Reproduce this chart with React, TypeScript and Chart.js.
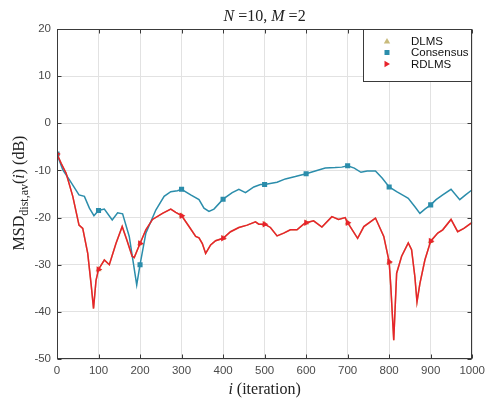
import React, { useEffect, useRef } from "react";
import { Chart, registerables } from "chart.js";

Chart.register(...registerables);

// ---------- data ----------
const rdlmsIter = [0, 10, 22, 38, 53, 62, 74, 82, 88, 94, 100, 114, 126, 142, 157, 168, 181, 186, 192, 200, 214, 230, 254, 274, 286, 300, 318, 334, 342, 350, 358, 370, 382, 400, 418, 438, 458, 478, 486, 500, 514, 530, 546, 562, 578, 594, 600, 618, 638, 662, 678, 694, 700, 724, 739, 767, 787, 800, 804, 811, 818, 830, 846, 854, 862, 867, 874, 886, 900, 917, 929, 949, 965, 980, 1000];
const rdlmsMsd = [-6.5, -8.5, -10.6, -15.5, -21.6, -22.3, -27.6, -34, -39.3, -33.3, -31, -29, -30, -25.5, -21.9, -24.7, -28.2, -28.5, -27.2, -25.5, -22.6, -20.4, -19.1, -18.2, -18.9, -19.6, -21.9, -24, -24.3, -25.5, -27.6, -25.8, -24.9, -24.4, -23, -22.1, -21.6, -20.9, -21.4, -21.4, -22.1, -23.9, -23.3, -22.6, -22.6, -21.4, -21.1, -20.7, -22, -19.8, -20.4, -20, -21.1, -24.4, -21.9, -20.1, -24, -29.4, -34.7, -46, -31.8, -28.2, -25.4, -26.8, -32.6, -37.9, -34, -29, -25, -23.3, -22.6, -20.4, -23, -22.3, -21];

const consIter = [0, 14, 30, 53, 66, 78, 89, 100, 114, 133, 146, 158, 174, 184, 192, 200, 214, 238, 258, 274, 290, 300, 322, 342, 354, 366, 378, 400, 422, 438, 454, 474, 490, 500, 530, 550, 574, 600, 626, 646, 670, 686, 700, 716, 732, 747, 767, 783, 800, 818, 838, 846, 862, 874, 886, 900, 913, 929, 949, 970, 984, 1000];
const consMsd = [-6.5, -9.9, -12, -15.2, -15.5, -18, -19.6, -18.5, -18.2, -20.5, -19, -19.2, -24, -29.7, -34.3, -30, -23.3, -18.4, -15.5, -14.5, -14.3, -14, -15.2, -16.2, -18, -18.7, -18.2, -16.1, -14.7, -14, -14.7, -13.5, -13, -13, -12.5, -11.8, -11.3, -10.7, -10, -9.5, -9.4, -9.3, -9, -9.5, -10.4, -10.1, -10.1, -11.6, -13.5, -14.5, -15.5, -15.9, -17.7, -19.1, -18.2, -17.3, -16.2, -15.2, -14, -16.2, -15.2, -14.1];

// DLMS curve lies underneath the RDLMS curve (not visible in the reference)
const dlmsIter = rdlmsIter;
const dlmsMsd = rdlmsMsd;

const seriesNames = ["DLMS", "Consensus", "RDLMS"];
const xTickValues = [0, 100, 200, 300, 400, 500, 600, 700, 800, 900, 1000];
const yTickValues = [20, 10, 0, -10, -20, -30, -40, -50];

const COL_DLMS = "#c9bb7c";
const COL_CONS = "#2b8dab";
const COL_RDLMS = "#e8232b";
const SERIF = "'Liberation Serif', 'DejaVu Serif', serif";
const SANS = "'Liberation Sans', Arial, sans-serif";

type Run = { t: string; font: string; dy?: number };

function drawRuns(ctx: CanvasRenderingContext2D, runs: Run[], cx: number, cy: number) {
  let total = 0;
  const widths = runs.map((r) => {
    ctx.font = r.font;
    const w = ctx.measureText(r.t).width;
    total += w;
    return w;
  });
  let x = cx - total / 2;
  ctx.textBaseline = "alphabetic";
  ctx.textAlign = "left";
  runs.forEach((r, i) => {
    ctx.font = r.font;
    ctx.fillText(r.t, x, cy + (r.dy || 0));
    x += widths[i];
  });
}

const decorPlugin = {
  id: "decor",
  afterDraw(chart: any) {
    const { ctx, chartArea: a, scales } = chart;
    const L = Math.round(a.left) + 0.5;
    const R = Math.round(a.right) - 0.5;
    const T = Math.round(a.top) + 0.5;
    const B = Math.round(a.bottom) - 0.5;
    ctx.save();
    // frame
    ctx.strokeStyle = "#3a3a3a";
    ctx.lineWidth = 1;
    ctx.strokeRect(L, T, R - L, B - T);
    // inward ticks
    ctx.beginPath();
    xTickValues.forEach((v) => {
      const px = Math.round(scales.x.getPixelForValue(v)) + 0.5;
      ctx.moveTo(px, B);
      ctx.lineTo(px, B - 4);
      ctx.moveTo(px, T);
      ctx.lineTo(px, T + 4);
    });
    yTickValues.forEach((v) => {
      const py = Math.round(scales.y.getPixelForValue(v)) + 0.5;
      ctx.moveTo(L, py);
      ctx.lineTo(L + 4, py);
      ctx.moveTo(R, py);
      ctx.lineTo(R - 4, py);
    });
    ctx.stroke();

    // title
    ctx.fillStyle = "#222";
    const f = `16px ${SERIF}`;
    const fi = `italic 16px ${SERIF}`;
    drawRuns(ctx, [
      { t: "N", font: fi },
      { t: " =10, ", font: f },
      { t: "M", font: fi },
      { t: " =2", font: f },
    ], (a.left + a.right) / 2, 21);

    // x label
    drawRuns(ctx, [
      { t: "i", font: fi },
      { t: " (iteration)", font: f },
    ], (a.left + a.right) / 2, 394);

    // y label (rotated)
    ctx.save();
    ctx.translate(24, 193);
    ctx.rotate(-Math.PI / 2);
    drawRuns(ctx, [
      { t: "MSD", font: f },
      { t: "dist,av", font: `12px ${SERIF}`, dy: 4 },
      { t: "(", font: f },
      { t: "i", font: fi },
      { t: ")", font: f },
      { t: " (dB)", font: f },
    ], 0, 0);
    ctx.restore();

    // legend
    const lx = 363.5, ly = T, lw = R - 363.5, lh = 52;
    ctx.fillStyle = "#ffffff";
    ctx.fillRect(lx, ly, lw, lh);
    ctx.strokeStyle = "#3a3a3a";
    ctx.strokeRect(lx, ly, lw, lh);
    const rows = [41, 52.5, 64];
    const colors = [COL_DLMS, COL_CONS, COL_RDLMS];
    ctx.font = `11.5px ${SANS}`;
    ctx.textBaseline = "middle";
    ctx.textAlign = "left";
    rows.forEach((y, i) => {
      const mx = 387;
      ctx.fillStyle = colors[i];
      ctx.beginPath();
      if (i === 0) {
        ctx.moveTo(mx, y - 3);
        ctx.lineTo(mx + 3.2, y + 2.5);
        ctx.lineTo(mx - 3.2, y + 2.5);
        ctx.closePath();
        ctx.fill();
      } else if (i === 1) {
        ctx.fillRect(mx - 2.5, y - 2.5, 5, 5);
      } else {
        ctx.moveTo(mx + 3, y);
        ctx.lineTo(mx - 2.5, y - 3.2);
        ctx.lineTo(mx - 2.5, y + 3.2);
        ctx.closePath();
        ctx.fill();
      }
      ctx.fillStyle = "#111";
      ctx.fillText(seriesNames[i], 411, y + 0.5);
    });
    ctx.restore();
  },
};

function toPts(xs: number[], ys: number[]) {
  return xs.map((x, i) => ({ x, y: ys[i] }));
}

const markerRadius = (r: number) => (c: any) => {
  const x = c.raw && c.raw.x;
  return x % 100 === 0 && x < 1000 ? r : 0;
};

export default function App() {
  const ref = useRef<HTMLCanvasElement | null>(null);
  useEffect(() => {
    if (!ref.current) return;
    const chart = new Chart(ref.current, {
      type: "line",
      data: {
        datasets: [
          {
            label: seriesNames[0],
            data: toPts(dlmsIter, dlmsMsd),
            borderColor: COL_DLMS,
            backgroundColor: COL_DLMS,
            borderWidth: 1.5,
            pointStyle: "triangle",
            pointRadius: markerRadius(3.5),
            pointBorderWidth: 0,
            order: 3,
            tension: 0,
          },
          {
            label: seriesNames[1],
            data: toPts(consIter, consMsd),
            borderColor: COL_CONS,
            backgroundColor: COL_CONS,
            borderWidth: 1.5,
            pointStyle: "rect",
            pointRadius: markerRadius(3.6),
            pointBorderWidth: 0,
            order: 2,
            tension: 0,
          },
          {
            label: seriesNames[2],
            data: toPts(rdlmsIter, rdlmsMsd),
            borderColor: COL_RDLMS,
            backgroundColor: COL_RDLMS,
            borderWidth: 1.5,
            pointStyle: "triangle",
            rotation: 90,
            pointRadius: markerRadius(3.8),
            pointBorderWidth: 0,
            order: 1,
            tension: 0,
          },
        ],
      },
      options: {
        responsive: false,
        animation: false,
        events: [],
        layout: { padding: { top: 29, right: 15, left: 0, bottom: 0 } },
        plugins: {
          legend: { display: false },
          title: { display: false },
          tooltip: { enabled: false },
        },
        scales: {
          x: {
            type: "linear",
            min: 0,
            max: 1000,
            afterBuildTicks: (s: any) => {
              s.ticks = xTickValues.map((v) => ({ value: v }));
            },
            afterFit: (s: any) => {
              s.height = 42;
            },
            ticks: {
              maxRotation: 0,
              autoSkip: false,
              padding: 5,
              color: "#4a4a4a",
              font: { family: SANS, size: 11.5 },
              callback: (v: any) => String(v),
            },
            grid: { color: "#e2e2e2", drawTicks: false },
            border: { display: false },
          },
          y: {
            type: "linear",
            min: -50,
            max: 20,
            afterBuildTicks: (s: any) => {
              s.ticks = yTickValues.map((v) => ({ value: v }));
            },
            afterFit: (s: any) => {
              s.width = 57;
            },
            ticks: {
              autoSkip: false,
              padding: 6,
              color: "#4a4a4a",
              font: { family: SANS, size: 11.5 },
              callback: (v: any) => String(v),
            },
            grid: { color: "#e2e2e2", drawTicks: false },
            border: { display: false },
          },
        },
      },
      plugins: [decorPlugin],
    } as any);
    return () => chart.destroy();
  }, []);

  return (
    <div style={{ position: "fixed", left: 0, top: 0, width: 490, height: 401, background: "#fff" }}>
      <canvas ref={ref} width={490} height={401} style={{ display: "block" }} />
    </div>
  );
}
